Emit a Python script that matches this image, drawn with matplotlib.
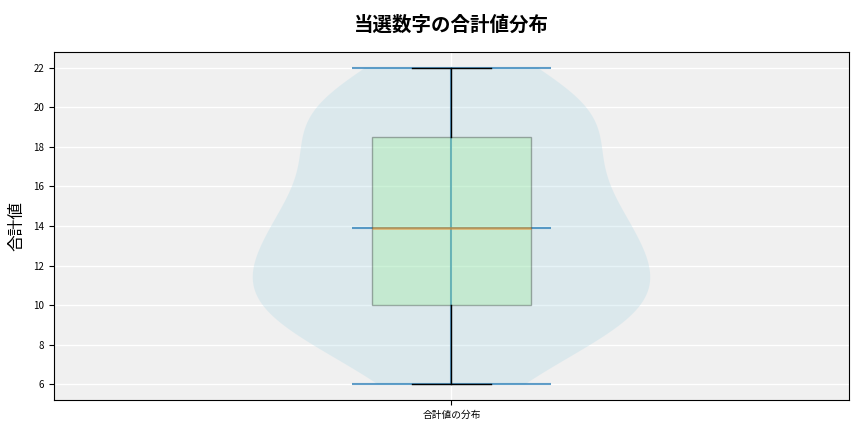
import matplotlib
matplotlib.use("Agg")
import matplotlib.pyplot as plt
import numpy as np

plt.rcParams['font.family'] = ['Noto Sans CJK JP', 'DejaVu Sans']

title = "当選数字の合計値分布"
ylabel = "合計値"
xtick_labels = ["合計値の分布"]
sums = [6, 7.66, 8.89, 9.46, 9.46, 9.49, 10.17, 11.25, 11.44, 11.81, 12.05,
        13.56, 14.24, 14.24, 15.29, 15.53, 15.74, 18.5, 18.5, 19.58, 19.84,
        20.03, 20.05, 22]

fig = plt.figure(figsize=(8.64, 4.32), dpi=100)
ax = fig.add_axes([0.0625, 0.0741, 0.9201, 0.8055])
ax.set_facecolor('#f0f0f0')
ax.grid(True, color='white', linewidth=1)
ax.set_axisbelow(True)

vp = ax.violinplot([sums], positions=[1], widths=0.5, showmedians=True, showextrema=True)
for b in vp['bodies']:
    b.set_facecolor('lightblue')
    b.set_edgecolor('none')
    b.set_alpha(0.3)
for key in ['cmins', 'cmaxes', 'cbars', 'cmedians']:
    vp[key].set_color('C0')
    vp[key].set_alpha(0.7)
    vp[key].set_linewidth(1.5)

bp = ax.boxplot([sums], positions=[1], widths=0.2, patch_artist=True,
                medianprops=dict(color='C1', alpha=0.55, linewidth=1.8))
for p in bp['boxes']:
    p.set_facecolor('lightgreen')
    p.set_alpha(0.3)

ax.set_xticks([1])
ax.set_xticklabels(xtick_labels, fontsize=7)
ax.tick_params(axis='y', labelsize=7)
ax.set_xlim(0.5, 1.5)
ax.set_ylabel(ylabel, fontsize=12, labelpad=6)
ax.set_title(title, fontsize=14, fontweight='bold', pad=15)
fig.savefig("out.png", dpi=100)
